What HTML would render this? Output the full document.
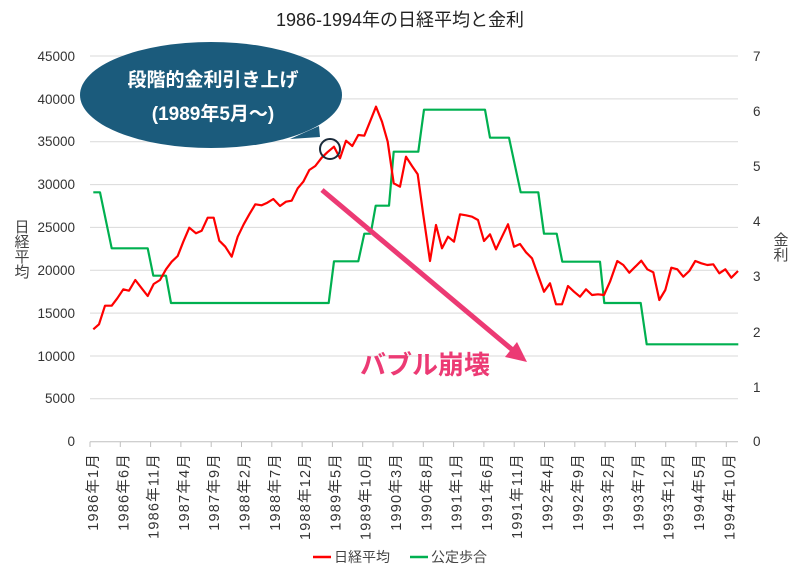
<!DOCTYPE html>
<html><head><meta charset="utf-8"><style>
html,body{margin:0;padding:0;background:#fff;}
svg{display:block;font-family:"Liberation Sans","Noto Sans CJK JP",sans-serif;}
</style></head><body>
<svg width="800" height="571" viewBox="0 0 800 571" xmlns="http://www.w3.org/2000/svg">
<rect width="800" height="571" fill="#fff"/>
<text x="400" y="26" font-size="18" text-anchor="middle" fill="#222">1986-1994年の日経平均と金利</text>
<g stroke="#d9d9d9" stroke-width="1">
<line x1="90" x2="738" y1="56" y2="56"/><line x1="90" x2="738" y1="98.9" y2="98.9"/>
<line x1="90" x2="738" y1="141.7" y2="141.7"/><line x1="90" x2="738" y1="184.6" y2="184.6"/>
<line x1="90" x2="738" y1="227.4" y2="227.4"/><line x1="90" x2="738" y1="270.3" y2="270.3"/>
<line x1="90" x2="738" y1="313.1" y2="313.1"/><line x1="90" x2="738" y1="356" y2="356"/>
<line x1="90" x2="738" y1="398.8" y2="398.8"/>
</g>
<line x1="90" x2="738" y1="441.7" y2="441.7" stroke="#bfbfbf"/>
<g stroke="#bfbfbf">
<line x1="90" x2="90" y1="441.7" y2="447"/><line x1="120.3" x2="120.3" y1="441.7" y2="447"/>
<line x1="150.6" x2="150.6" y1="441.7" y2="447"/><line x1="180.9" x2="180.9" y1="441.7" y2="447"/>
<line x1="211.2" x2="211.2" y1="441.7" y2="447"/><line x1="241.5" x2="241.5" y1="441.7" y2="447"/>
<line x1="271.8" x2="271.8" y1="441.7" y2="447"/><line x1="302.1" x2="302.1" y1="441.7" y2="447"/>
<line x1="332.4" x2="332.4" y1="441.7" y2="447"/><line x1="362.7" x2="362.7" y1="441.7" y2="447"/>
<line x1="393" x2="393" y1="441.7" y2="447"/><line x1="423.3" x2="423.3" y1="441.7" y2="447"/>
<line x1="453.6" x2="453.6" y1="441.7" y2="447"/><line x1="483.9" x2="483.9" y1="441.7" y2="447"/>
<line x1="514.2" x2="514.2" y1="441.7" y2="447"/><line x1="544.5" x2="544.5" y1="441.7" y2="447"/>
<line x1="574.8" x2="574.8" y1="441.7" y2="447"/><line x1="605.1" x2="605.1" y1="441.7" y2="447"/>
<line x1="635.4" x2="635.4" y1="441.7" y2="447"/><line x1="665.7" x2="665.7" y1="441.7" y2="447"/>
<line x1="696" x2="696" y1="441.7" y2="447"/><line x1="726.3" x2="726.3" y1="441.7" y2="447"/>
</g>
<g font-size="13.5" fill="#333" text-anchor="end">
<text x="75" y="61">45000</text><text x="75" y="104">40000</text><text x="75" y="146">35000</text>
<text x="75" y="189">30000</text><text x="75" y="232">25000</text><text x="75" y="275">20000</text>
<text x="75" y="318">15000</text><text x="75" y="361">10000</text><text x="75" y="403">5000</text>
<text x="75" y="446">0</text>
</g>
<g font-size="13.5" fill="#333">
<text x="753" y="61">7</text><text x="753" y="116">6</text><text x="753" y="171">5</text>
<text x="753" y="226">4</text><text x="753" y="281">3</text><text x="753" y="337">2</text>
<text x="753" y="392">1</text><text x="753" y="446">0</text>
</g>
<g font-size="15" fill="#444" text-anchor="middle">
<text x="22" y="232">日</text><text x="22" y="247">経</text><text x="22" y="262">平</text><text x="22" y="277">均</text>
<text x="781" y="245">金</text><text x="781" y="260">利</text>
</g>
<g font-size="14.5" fill="#333" text-anchor="end" letter-spacing="1.2">
<text transform="translate(98,453) rotate(-90)">1986年1月</text>
<text transform="translate(128.3,453) rotate(-90)">1986年6月</text>
<text transform="translate(158.6,453) rotate(-90)">1986年11月</text>
<text transform="translate(188.9,453) rotate(-90)">1987年4月</text>
<text transform="translate(219.2,453) rotate(-90)">1987年9月</text>
<text transform="translate(249.5,453) rotate(-90)">1988年2月</text>
<text transform="translate(279.8,453) rotate(-90)">1988年7月</text>
<text transform="translate(310.1,453) rotate(-90)">1988年12月</text>
<text transform="translate(340.4,453) rotate(-90)">1989年5月</text>
<text transform="translate(370.7,453) rotate(-90)">1989年10月</text>
<text transform="translate(401,453) rotate(-90)">1990年3月</text>
<text transform="translate(431.3,453) rotate(-90)">1990年8月</text>
<text transform="translate(461.6,453) rotate(-90)">1991年1月</text>
<text transform="translate(491.9,453) rotate(-90)">1991年6月</text>
<text transform="translate(522.2,453) rotate(-90)">1991年11月</text>
<text transform="translate(552.5,453) rotate(-90)">1992年4月</text>
<text transform="translate(582.8,453) rotate(-90)">1992年9月</text>
<text transform="translate(613.1,453) rotate(-90)">1993年2月</text>
<text transform="translate(643.4,453) rotate(-90)">1993年7月</text>
<text transform="translate(673.7,453) rotate(-90)">1993年12月</text>
<text transform="translate(704,453) rotate(-90)">1994年5月</text>
<text transform="translate(734.3,453) rotate(-90)">1994年10月</text>
</g>
<polyline fill="none" stroke="#00b050" stroke-width="2.2" stroke-linejoin="round" points="93.3,192.3 100,192.3 111.7,248.3 147.7,248.3 153.3,275.7 166,275.7 171,303 328.7,303 334,261.3 358.3,261.3 364.3,233.7 370.7,233.7 375.7,205.7 389,205.7 393.7,151.7 418.3,151.7 424,109.7 485,109.7 490,137.7 509,137.7 520.7,192.3 538.3,192.3 544,233.7 556.7,233.7 562.3,261.7 600,261.7 604.3,303 640.7,303 646.7,344.3 738.3,344.3"/>
<polyline fill="none" stroke="#ff0000" stroke-width="2.2" stroke-linejoin="round" points="93.3,329.3 99,324.3 105,305.7 111.7,305.7 117.3,298.3 123.3,289.3 129,290.7 135.3,280 141.7,288.3 147.7,296 153.7,284 160,280 166,269.3 171.7,261.7 177.7,256 183.3,241.7 189.3,227.7 196,233.3 201.7,230.7 207.7,217.7 213.7,217.7 219.3,240.7 225.3,246.7 231.7,256.7 237.7,236.7 243.7,224.3 249.3,214.3 255.3,204.3 261.7,205.3 267.3,202.7 273.3,199 280,206 286,201.7 291.7,200.7 297.7,188.3 303.3,181.7 309.3,170 315.3,166 321.7,157.7 327.3,152.3 334,146.7 340,158.3 346,140.7 352.3,146 358.3,135 364.3,135.7 370,121.7 376,106.7 382,121.7 387.7,141.7 393.7,183.3 400,186.7 406,156.7 412,166 417.7,174.3 423.3,215 430,261 436,225 442,248.3 448,236.7 454,241.7 460,214.3 466,215.3 472,216.7 478,220 484,241 490,234.3 496,249.3 502,236.7 508,224.3 514,246.7 520,244 526,252.3 532,258.3 538,275 544,291.7 550,283.3 556,304.3 562,304.3 568,286 574,291.7 580,296.7 586,289.3 592,295 598,294.3 604,295 610,281.7 617.3,261 623.3,265 629.3,272.7 635.3,266.7 641.3,260.7 647.3,269.3 653.3,272.3 659.3,300 665.3,290 671.3,267.7 677.3,269.3 683.3,276.7 689.3,271 695.3,261 701.3,263.3 707.3,265 713.3,264.3 719.3,273.3 725.3,269.3 731.3,277.7 738,271"/>
<path d="M290,139 L320,137 L319,126 Z" fill="#1b5b7c"/>
<ellipse cx="211" cy="95" rx="131" ry="53" fill="#1b5b7c"/>
<text x="213" y="86" font-size="19" font-weight="bold" fill="#fff" text-anchor="middle">段階的金利引き上げ</text>
<text x="213" y="120" font-size="19" font-weight="bold" fill="#fff" text-anchor="middle">(1989年5月～)</text>
<circle cx="330" cy="149" r="10" fill="none" stroke="#1a2a3a" stroke-width="2"/>
<line x1="322" y1="190" x2="515" y2="352" stroke="#ec3a74" stroke-width="5"/>
<polygon points="527,362 505,357 517,342" fill="#ec3a74"/>
<text x="360" y="374" font-size="26" font-weight="bold" fill="#ec3a74">バブル崩壊</text>
<line x1="313" x2="331" y1="557" y2="557" stroke="#ff0000" stroke-width="2.5"/>
<text x="334" y="562" font-size="14" fill="#444">日経平均</text>
<line x1="410" x2="428" y1="557" y2="557" stroke="#00b050" stroke-width="2.5"/>
<text x="431" y="562" font-size="14" fill="#444">公定歩合</text>
</svg>
</body></html>
